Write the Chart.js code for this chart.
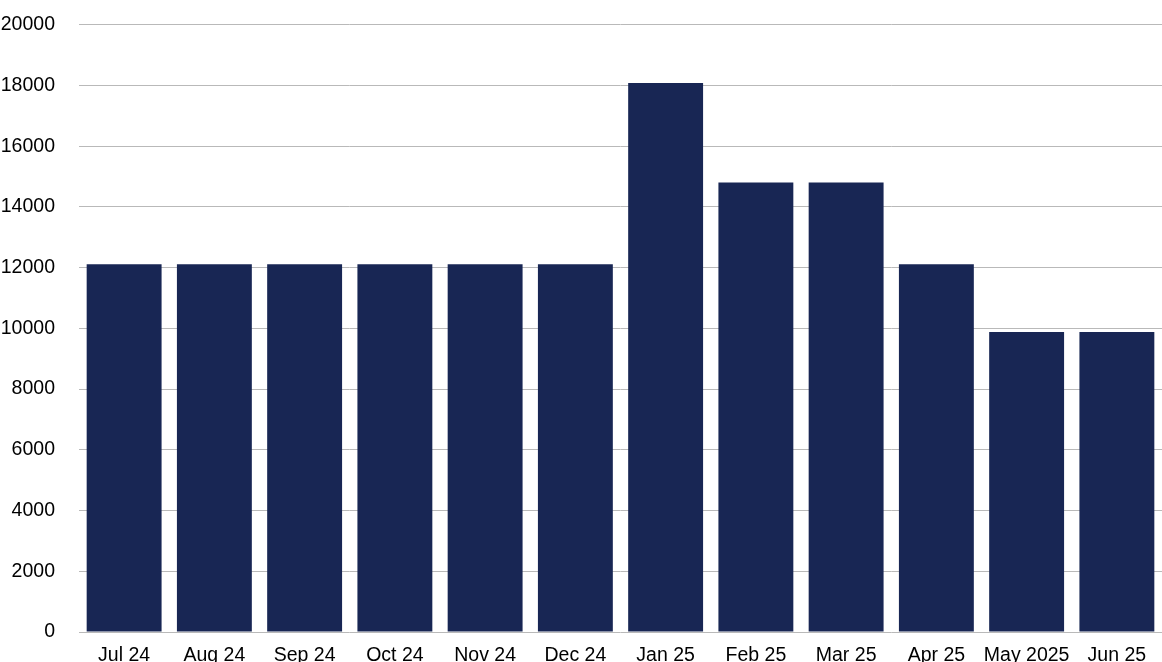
<!DOCTYPE html>
<html>
<head>
<meta charset="utf-8">
<script src="https://cdn.jsdelivr.net/npm/chart.js@4.4.1/dist/chart.umd.min.js"></script>
<style>
    html, body { margin: 0; padding: 0; background: #fff; overflow: hidden; }
    #wrap { width: 1162px; height: 691px; margin-top: -11px; position: relative; }
</style>
</head>
<body>
<div id="wrap"><canvas id="barChart"></canvas></div>
<script>
// data
var months = ['Jul 24', 'Aug 24', 'Sep 24', 'Oct 24', 'Nov 24', 'Dec 24',
              'Jan 25', 'Feb 25', 'Mar 25', 'Apr 25', 'May 2025', 'Jun 25'];
var amounts = [12110, 12110, 12110, 12110, 12110, 12110,
               18076, 14800, 14800, 12110, 9880, 9880];
var yMin = 0;
var yMax = 20000;
var yStep = 2000;

var barColor = '#182654';
var gridColor = '#b9b9b9';

Chart.defaults.font.family = '"Liberation Sans", Arial, Helvetica, sans-serif';
Chart.defaults.font.size = 19.5;
Chart.defaults.color = '#000';

var ctx = document.getElementById('barChart').getContext('2d');
var barChart = new Chart(ctx, {
    type: 'bar',
    data: {
        labels: months,
        datasets: [{
            data: amounts,
            backgroundColor: barColor,
            borderWidth: 0,
            categoryPercentage: 1,
            barPercentage: 0.83
        }]
    },
    options: {
        responsive: true,
        maintainAspectRatio: false,
        animation: false,
        layout: { padding: { top: 13, right: 0, bottom: 0, left: 0 } },
        plugins: {
            legend: { display: false },
            tooltip: { enabled: false }
        },
        scales: {
            x: {
                grid: { display: false },
                border: { display: false },
                ticks: { padding: 4, maxRotation: 0, autoSkip: false },
                afterFit: function(scale) { scale.height = 48; }
            },
            y: {
                min: yMin,
                max: yMax,
                ticks: {
                    stepSize: yStep,
                    padding: 24,
                    callback: function(value) { return String(value); }
                },
                grid: { color: gridColor, lineWidth: 1, drawTicks: false },
                border: { display: false },
                afterFit: function(scale) { scale.width = 79; }
            }
        }
    }
});
</script>
</body>
</html>
